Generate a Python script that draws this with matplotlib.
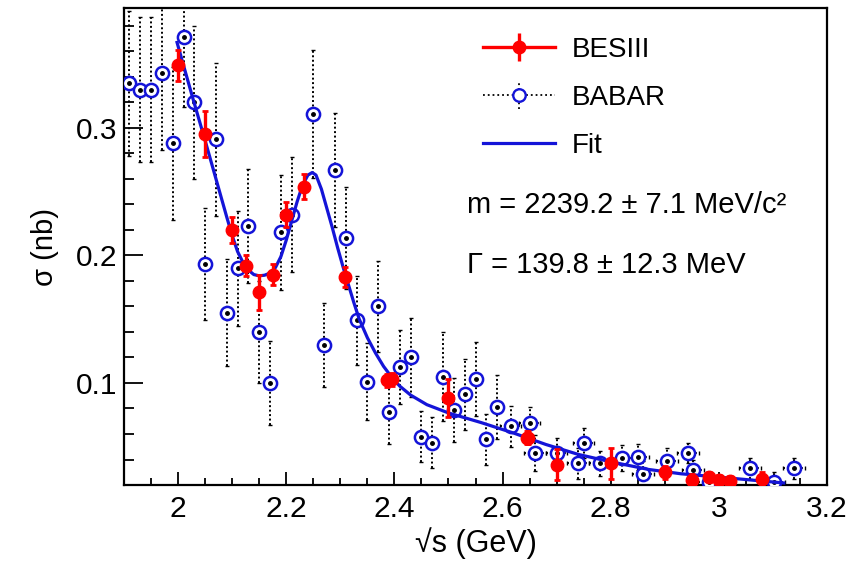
import numpy as np
import matplotlib
matplotlib.use("Agg")
import matplotlib.pyplot as plt
from matplotlib.ticker import MultipleLocator

plt.rcParams['font.family'] = ['Liberation Sans', 'DejaVu Sans']

# BESIII points
bes_x = [2.0, 2.05, 2.1, 2.125, 2.15, 2.175, 2.2, 2.2324, 2.3094, 2.3864, 2.396,
         2.5, 2.6444, 2.6464, 2.7, 2.8, 2.9, 2.95, 2.981, 3.0, 3.02, 3.08]
bes_y = [0.349, 0.295, 0.220, 0.192, 0.171, 0.185, 0.232, 0.254, 0.183, 0.102, 0.103,
         0.088, 0.057, 0.057, 0.036, 0.037, 0.030, 0.024, 0.026, 0.024, 0.023, 0.025]
bes_err = [0.012, 0.018, 0.010, 0.008, 0.014, 0.008, 0.010, 0.010, 0.008, 0.005, 0.005,
           0.015, 0.005, 0.005, 0.012, 0.012, 0.005, 0.005, 0.004, 0.004, 0.004, 0.005]

# BABAR points
babar_x = [1.91, 1.93, 1.95, 1.97, 1.99, 2.01, 2.03, 2.05, 2.07, 2.09, 2.11, 2.13,
           2.15, 2.17, 2.19, 2.21, 2.25, 2.27, 2.29, 2.31, 2.33, 2.35, 2.37, 2.39,
           2.41, 2.43, 2.45, 2.47, 2.49, 2.51, 2.53, 2.55, 2.57, 2.59, 2.615, 2.65,
           2.66, 2.70, 2.74, 2.75, 2.78, 2.82, 2.85, 2.86, 2.904, 2.943, 2.952,
           2.982, 3.058, 3.102, 3.139]
babar_y = [0.335, 0.330, 0.330, 0.343, 0.288, 0.371, 0.320, 0.193, 0.291, 0.155, 0.190, 0.223,
           0.140, 0.100, 0.218, 0.232, 0.311, 0.130, 0.267, 0.214, 0.149, 0.101, 0.160, 0.077,
           0.1125, 0.120, 0.058, 0.053, 0.105, 0.079, 0.091, 0.103, 0.056, 0.081, 0.066, 0.069,
           0.045, 0.045, 0.037, 0.053, 0.037, 0.041, 0.042, 0.029, 0.039, 0.045, 0.032,
           0.022, 0.033, 0.022, 0.033]
babar_err = [0.057, 0.057, 0.057, 0.060, 0.060, 0.055, 0.060, 0.044, 0.060, 0.042, 0.045, 0.045,
             0.040, 0.033, 0.045, 0.045, 0.050, 0.033, 0.045, 0.040, 0.035, 0.030, 0.036, 0.025,
             0.029, 0.031, 0.020, 0.020, 0.035, 0.025, 0.028, 0.029, 0.020, 0.025, 0.016, 0.012,
             0.014, 0.012, 0.012, 0.012, 0.010, 0.010, 0.010, 0.010, 0.010, 0.008, 0.008,
             0.008, 0.008, 0.008, 0.008]
babar_xerr = [0.01] * 34 + [0.02] * 17

# fit curve
fit_x = [1.998, 2.026, 2.052, 2.080, 2.09, 2.10, 2.11, 2.12, 2.13, 2.14, 2.15,
         2.16, 2.17, 2.18, 2.19, 2.20, 2.21, 2.22, 2.23, 2.24, 2.248, 2.255,
         2.265, 2.275, 2.285, 2.295, 2.305, 2.315, 2.325, 2.335, 2.35, 2.365, 2.38,
         2.395, 2.41, 2.43, 2.46, 2.50, 2.56, 2.62, 2.68, 2.74, 2.80, 2.87, 2.93,
         3.00, 3.06, 3.12]
fit_y = [0.367, 0.325, 0.287, 0.245, 0.230, 0.2155, 0.203, 0.1945, 0.1885, 0.185, 0.184,
         0.1845, 0.1862, 0.1905, 0.199, 0.212, 0.227, 0.242, 0.255, 0.263, 0.265, 0.263,
         0.252, 0.237, 0.222, 0.206, 0.191, 0.177, 0.163, 0.150, 0.1355, 0.1235, 0.1130,
         0.1045, 0.0975, 0.0905, 0.0830, 0.0765, 0.0690, 0.0608, 0.0518, 0.0440, 0.0382,
         0.0322, 0.0288, 0.0262, 0.0239, 0.0216]

blue = '#1414d8'
red = '#ff0000'

fig = plt.figure(figsize=(8.62, 5.67), dpi=100)
ax = fig.add_axes([0.1439, 0.1446, 0.8155, 0.8413])

eb = ax.errorbar(babar_x, babar_y, yerr=babar_err, xerr=babar_xerr, fmt='none',
                 ecolor='black', elinewidth=1.4, capsize=1.5, capthick=1.0, zorder=2)
for c in eb.lines[2]:
    c.set_linestyle((0, (1, 1.3)))
ax.plot(babar_x, babar_y, 'o', ms=9.5, mfc='white', mec=blue, mew=1.8, zorder=3)
ax.plot(babar_x, babar_y, 'o', ms=2.5, color='black', zorder=3)

ax.plot(fit_x, fit_y, '-', color=blue, lw=2.3, zorder=4)

ax.errorbar(bes_x, bes_y, yerr=bes_err, fmt='o', color=red, ms=9, elinewidth=2.4,
            capsize=2.5, capthick=2, zorder=5)

# legend proxies
h_bes = ax.errorbar([], [], yerr=[], fmt='o-', color=red, ms=9, lw=2.4, elinewidth=2.4,
                    capsize=4, capthick=2)
h_bab = ax.errorbar([], [], yerr=[], fmt='o:', color='black', mfc='white', mec=blue,
                    ms=9, mew=1.7, lw=1.3, elinewidth=1.3, capsize=1.5)
for c in h_bab.lines[2]:
    c.set_linestyle(':')
h_fit, = ax.plot([], [], '-', color=blue, lw=2.3)
ax.legend([h_bes, h_bab, h_fit], ['BESIII', 'BABAR', 'Fit'], loc='upper left',
          bbox_to_anchor=(0.511, 0.94), frameon=False, fontsize=20, handlelength=2.6,
          handletextpad=0.6, labelspacing=0.8, borderpad=0, borderaxespad=0)

ax.text(0.488, 0.587, 'm = 2239.2 \u00b1 7.1 MeV/c\u00b2', transform=ax.transAxes,
        fontsize=21, va='center', ha='left')
ax.text(0.488, 0.461, '\u0393 = 139.8 \u00b1 12.3 MeV', transform=ax.transAxes,
        fontsize=21, va='center', ha='left')

ax.set_xlim(1.9, 3.2)
ax.set_ylim(0.02, 0.394)
ax.xaxis.set_major_locator(MultipleLocator(0.2))
ax.xaxis.set_minor_locator(MultipleLocator(0.05))
ax.yaxis.set_major_locator(MultipleLocator(0.1))
ax.yaxis.set_minor_locator(MultipleLocator(0.02))
ax.set_xticks([2.0, 2.2, 2.4, 2.6, 2.8, 3.0, 3.2])
ax.set_xticklabels(['2', '2.2', '2.4', '2.6', '2.8', '3', '3.2'])
ax.set_yticks([0.1, 0.2, 0.3])
ax.set_yticklabels(['0.1', '0.2', '0.3'])
ax.tick_params(axis='both', which='both', direction='in', top=False, right=False,
               labelsize=21.5, width=1.3)
ax.tick_params(axis='x', which='major', length=9.5, pad=7)
ax.tick_params(axis='x', which='minor', length=5)
ax.tick_params(axis='y', which='major', length=14, pad=5)
ax.tick_params(axis='y', which='minor', length=7)
for s in ax.spines.values():
    s.set_linewidth(1.6)

ax.set_xlabel('\u221as (GeV)', fontsize=22, labelpad=3)
ax.set_ylabel('\u03c3 (nb)', fontsize=21, labelpad=12)

fig.savefig('out.png', dpi=100)
